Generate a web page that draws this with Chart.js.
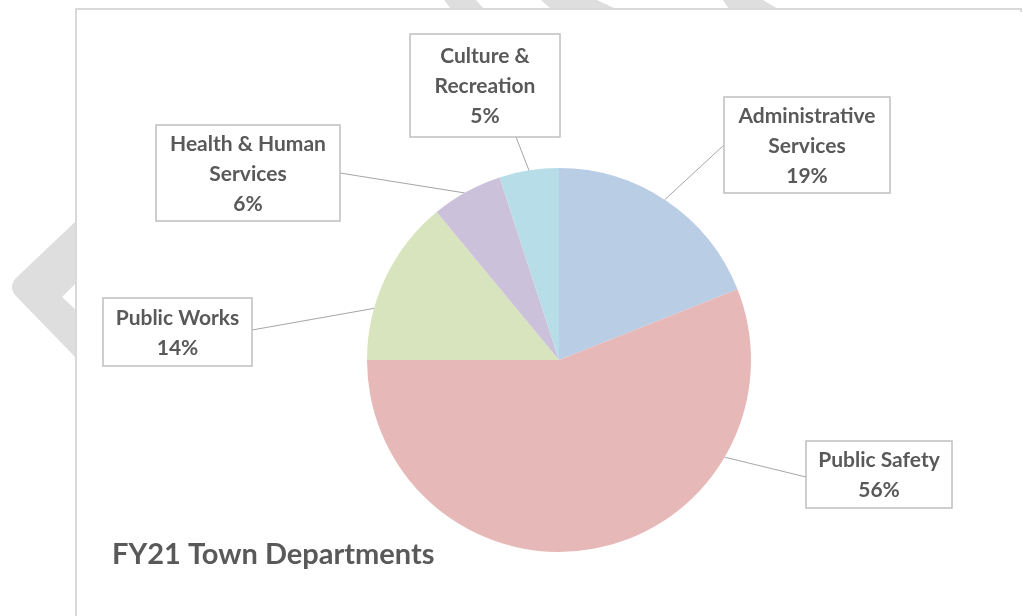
<!DOCTYPE html>
<html lang="en">
  <head>
    <meta charset="UTF-8" />
    <title>FY21 Town Departments</title>
    <script src="https://cdn.jsdelivr.net/npm/chart.js"></script>
    <style>
      body {
        margin: 0;
        background: #ffffff;
      }
    </style>
  </head>
  <body>
    <canvas id="graficoPizza" width="1023" height="616"></canvas>

    <script>
      // dados do grafico
      const departamentos = [
        'Administrative Services',
        'Public Safety',
        'Public Works',
        'Health & Human Services',
        'Culture & Recreation'
      ]
      const percentuais = [19, 56, 14, 6, 5]
      // linhas de texto de cada rotulo (o % vai na ultima linha)
      const linhasRotulo = [
        ['Administrative', 'Services'],
        ['Public Safety'],
        ['Public Works'],
        ['Health & Human', 'Services'],
        ['Culture &', 'Recreation']
      ]
      const tituloGrafico = 'FY21 Town Departments'

      const coresFatias = ['#b9cde5', '#e6b9b8', '#d7e4bd', '#ccc1da', '#b7dee8']

      // caixas dos rotulos [x1, y1, x2, y2], ponto de saida da linha e angulo (graus, a partir do topo)
      const caixas = [
        { box: [724, 97, 890, 193], de: [724, 145], ang: 33.4 },
        { box: [806, 441, 952, 508], de: [806, 477], ang: 120.4 },
        { box: [103, 298, 252, 366], de: [252, 330], ang: 285.6 },
        { box: [156, 125, 340, 221], de: [340, 173], ang: 330.5 },
        { box: [410, 34, 560, 137], de: [516, 137], ang: 351 }
      ]

      const corTexto = '#595959'

      // fundo: marca d'agua cinza e moldura
      const pluginFundo = {
        id: 'fundo',
        beforeDraw(chart) {
          const ctx = chart.ctx
          ctx.save()
          ctx.fillStyle = '#dedede'
          // listras no topo
          const listras = [
            [[444, 0], [476, 0], [484, 9], [451, 9]],
            [[541, 0], [597, 0], [616, 9], [551, 9]],
            [[723, 0], [763, 0], [778, 9], [729, 9]]
          ]
          listras.forEach(p => {
            ctx.beginPath()
            ctx.moveTo(p[0][0], p[0][1])
            for (let i = 1; i < p.length; i++) ctx.lineTo(p[i][0], p[i][1])
            ctx.closePath()
            ctx.fill()
          })
          // seta a esquerda
          ctx.beginPath()
          ctx.moveTo(76, 221)
          ctx.lineTo(16, 278)
          ctx.quadraticCurveTo(8, 287, 16, 296)
          ctx.lineTo(76, 358)
          ctx.lineTo(76, 310)
          ctx.lineTo(62, 297)
          ctx.lineTo(76, 283)
          ctx.closePath()
          ctx.fill()

          // moldura
          ctx.fillStyle = '#ffffff'
          ctx.fillRect(76, 10, 946, 606)
          ctx.strokeStyle = '#d9d9d9'
          ctx.lineWidth = 2
          ctx.beginPath()
          ctx.moveTo(76, 616)
          ctx.lineTo(76, 9)
          ctx.lineTo(1021, 9)
          ctx.lineTo(1021, 12)
          ctx.stroke()
          ctx.restore()
        }
      }

      // rotulos com linhas de chamada e titulo
      const pluginRotulos = {
        id: 'rotulos',
        afterDraw(chart) {
          const ctx = chart.ctx
          const arco = chart.getDatasetMeta(0).data[0]
          const cx = arco.x
          const cy = arco.y
          const r = arco.outerRadius
          ctx.save()

          caixas.forEach((c, i) => {
            const rad = (c.ang * Math.PI) / 180
            const px = cx + r * Math.sin(rad)
            const py = cy - r * Math.cos(rad)

            ctx.strokeStyle = '#a6a6a6'
            ctx.lineWidth = 1
            ctx.beginPath()
            ctx.moveTo(c.de[0], c.de[1])
            ctx.lineTo(px, py)
            ctx.stroke()

            const [x1, y1, x2, y2] = c.box
            ctx.fillStyle = '#ffffff'
            ctx.fillRect(x1, y1, x2 - x1, y2 - y1)
            ctx.strokeStyle = '#bfbfbf'
            ctx.lineWidth = 1.5
            ctx.strokeRect(x1, y1, x2 - x1, y2 - y1)

            const linhas = linhasRotulo[i].concat([percentuais[i] + '%'])
            ctx.fillStyle = corTexto
            ctx.font = 'bold 21px Lato'
            ctx.textAlign = 'center'
            ctx.textBaseline = 'middle'
            const meioX = (x1 + x2) / 2
            const meioY = (y1 + y2) / 2 + 1
            linhas.forEach((t, j) => {
              ctx.fillText(t, meioX, meioY + (j - (linhas.length - 1) / 2) * 30)
            })
          })

          ctx.font = 'bold 29px Lato'
          ctx.textAlign = 'left'
          ctx.textBaseline = 'middle'
          ctx.fillStyle = corTexto
          ctx.fillText(tituloGrafico, 112, 555)
          ctx.restore()
        }
      }

      const config = {
        type: 'pie',
        data: {
          labels: departamentos,
          datasets: [
            {
              data: percentuais,
              backgroundColor: coresFatias,
              borderWidth: 0
            }
          ]
        },
        options: {
          responsive: false,
          devicePixelRatio: 1,
          animation: false,
          layout: {
            padding: { left: 367, right: 272, top: 168, bottom: 64 }
          },
          plugins: {
            legend: { display: false },
            tooltip: { enabled: false }
          }
        },
        plugins: [pluginFundo, pluginRotulos]
      }

      let grafico = new Chart(document.getElementById('graficoPizza'), config)
    </script>
  </body>
</html>
